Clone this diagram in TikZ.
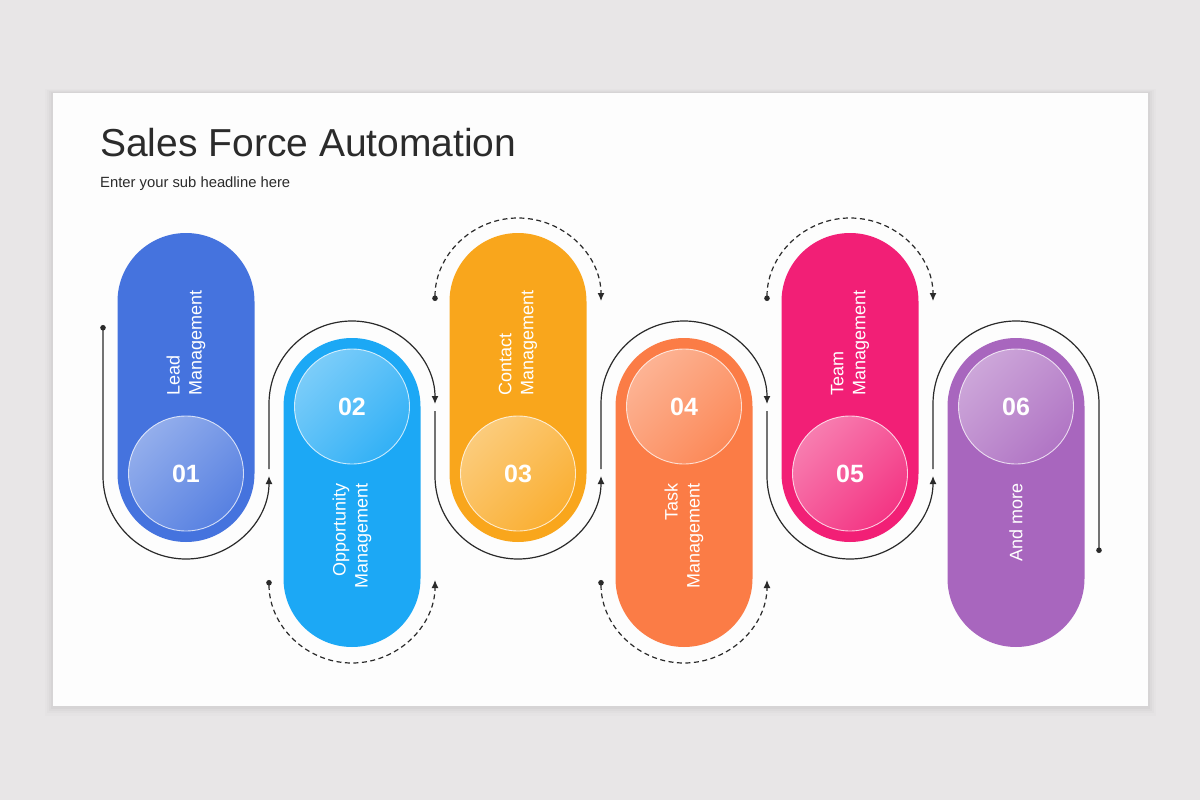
\documentclass[tikz,border=0pt]{standalone}
\usepackage{fontspec}
\setmainfont{Liberation Sans}
\usetikzlibrary{arrows.meta}
\usetikzlibrary{positioning}
\usetikzlibrary{calc}
\definecolor{pagegray}{HTML}{E8E6E7}
\definecolor{slidewhite}{HTML}{FDFDFD}
\definecolor{titlegray}{HTML}{2B2B2B}
\definecolor{linegray}{HTML}{2A2A2A}
\definecolor{leadblue}{HTML}{4573DE}
\definecolor{oppblue}{HTML}{1CA8F5}
\definecolor{contactyellow}{HTML}{F9A61C}
\definecolor{taskorange}{HTML}{FB7C46}
\definecolor{teampink}{HTML}{F21F76}
\definecolor{morepurple}{HTML}{A866BE}
\tikzstyle{pill} = [rectangle, rounded corners=68.5pt, minimum width=137pt, minimum height=309pt, inner sep=0pt]
\tikzstyle{badge} = [circle, minimum size=115pt, inner sep=0pt, draw=white, draw opacity=0.75, line width=0.9pt, text=white, font=\fontsize{25}{25}\selectfont\bfseries]
\tikzstyle{pilltext} = [rotate=90, inner sep=0pt, text=white, font=\fontsize{18}{22}\selectfont]
\tikzstyle{snake} = [line width=1.2pt, draw=linegray]
\tikzstyle{loopdash} = [line width=1.2pt, draw=linegray, dash pattern=on 5pt off 3.5pt]

\begin{document}
\begin{tikzpicture}[x=1pt,y=-1pt]

		\useasboundingbox (0,0) rectangle (1200,800);
		\fill[pagegray] (0,0) rectangle (1200,800);
		
		% slide with soft shadow
		\fill[black, opacity=0.012] (45,89) rectangle (1156,716);
		\fill[black, opacity=0.015] (47,90) rectangle (1154,713);
		\fill[black, opacity=0.02] (49,91) rectangle (1152,711);
		\fill[black, opacity=0.025] (51,92) rectangle (1150,709);
		\fill[slidewhite] (53,93) rectangle (1148,706);
		
		% headline
		\node[anchor=base west, inner sep=0pt, text=titlegray, font=\fontsize{39}{39}\selectfont] (title) at (100,156) {Sales Force Automation};
		\node[below=31pt of title.base west, anchor=base west, inner sep=0pt, text=titlegray, font=\fontsize{14.8}{16}\selectfont] (subtitle) {Enter your sub headline here};
		
		% pills
		\node[pill, fill=leadblue] (p1) at (186,387.5) {};
		\node[pill, fill=oppblue] (p2) at (352,492.5) {};
		\node[pill, fill=contactyellow] (p3) at (518,387.5) {};
		\node[pill, fill=taskorange] (p4) at (684,492.5) {};
		\node[pill, fill=teampink] (p5) at (850,387.5) {};
		\node[pill, fill=morepurple] (p6) at (1016,492.5) {};
		
		% number badges
		\node[badge, top color=leadblue!58!white, bottom color=leadblue!90!white, shading angle=45] (c1) at (186,473.5) {01};
		\node[badge, top color=oppblue!58!white, bottom color=oppblue!90!white, shading angle=45] (c2) at (352,406.5) {02};
		\node[badge, top color=contactyellow!58!white, bottom color=contactyellow!90!white, shading angle=45] (c3) at (518,473.5) {03};
		\node[badge, top color=taskorange!58!white, bottom color=taskorange!90!white, shading angle=45] (c4) at (684,406.5) {04};
		\node[badge, top color=teampink!58!white, bottom color=teampink!90!white, shading angle=45] (c5) at (850,473.5) {05};
		\node[badge, top color=morepurple!58!white, bottom color=morepurple!90!white, shading angle=45] (c6) at (1016,406.5) {06};
		
		% labels
		\node[pilltext, anchor=west, align=left] (t1) at (186,396) {Lead\\Management};
		\node[pilltext, anchor=east, align=right] (t2) at (352,483) {Opportunity\\Management};
		\node[pilltext, anchor=west, align=left] (t3) at (518,396) {Contact\\Management};
		\node[pilltext, anchor=east, align=right] (t4) at (684,483) {Task\\Management};
		\node[pilltext, anchor=west, align=left] (t5) at (850,396) {Team\\Management};
		\node[pilltext, anchor=east, align=right] (t6) at (1016,483) {And more};
		
		% snake line
		\coordinate (snakestart) at (103,325);
		\coordinate (snakeend) at (1099,553);
		\draw[snake, {Circle[length=5.5pt]}-{Latex[length=8pt, width=7pt]}] (snakestart) -- (103,476) arc[start angle=180, end angle=0, radius=83];
		\draw[snake, -{Latex[length=8pt, width=7pt]}] (269,469) -- (269,404) arc[start angle=180, end angle=360, radius=83];
		\draw[snake, -{Latex[length=8pt, width=7pt]}] (435,411) -- (435,476) arc[start angle=180, end angle=0, radius=83];
		\draw[snake, -{Latex[length=8pt, width=7pt]}] (601,469) -- (601,404) arc[start angle=180, end angle=360, radius=83];
		\draw[snake, -{Latex[length=8pt, width=7pt]}] (767,411) -- (767,476) arc[start angle=180, end angle=0, radius=83];
		\draw[snake, -{Circle[length=5.5pt]}] (933,469) -- (933,404) arc[start angle=180, end angle=360, radius=83] -- (snakeend);
		
		% dashed loops
		\draw[loopdash, {Circle[length=5.5pt]}-{Latex[length=8pt, width=7pt]}] (269,580) arc[start angle=180, end angle=0, radius=83];
		\draw[loopdash, {Circle[length=5.5pt]}-{Latex[length=8pt, width=7pt]}] (435,301) arc[start angle=180, end angle=360, radius=83];
		\draw[loopdash, {Circle[length=5.5pt]}-{Latex[length=8pt, width=7pt]}] (601,580) arc[start angle=180, end angle=0, radius=83];
		\draw[loopdash, {Circle[length=5.5pt]}-{Latex[length=8pt, width=7pt]}] (767,301) arc[start angle=180, end angle=360, radius=83];
		
	\end{tikzpicture}
\end{document}
